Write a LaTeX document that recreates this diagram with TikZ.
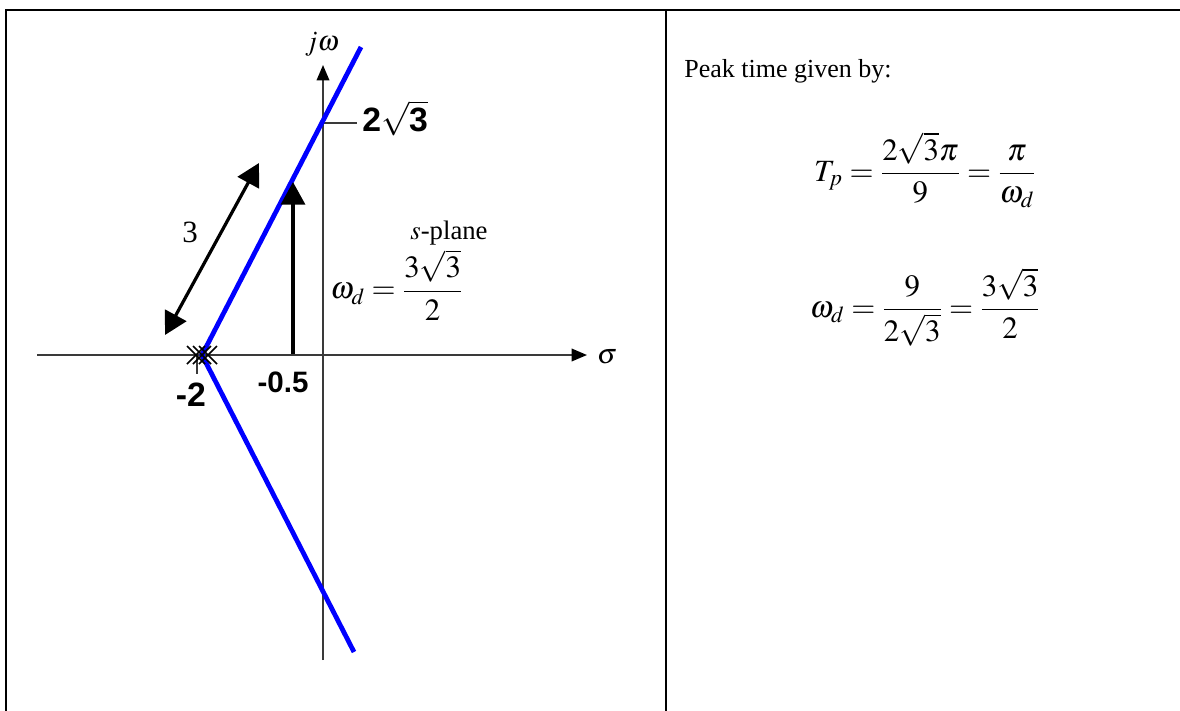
\documentclass[tikz,border=0pt]{standalone}
\usepackage{mathptmx}
\usepackage{fontspec}
\setmainfont{Liberation Serif}
\newfontfamily\arialfont{Liberation Sans}
\usetikzlibrary{arrows.meta}
\definecolor{locusblue}{HTML}{0000FF}
\definecolor{axisgray}{HTML}{3A3A3A}

\begin{document}
\begin{tikzpicture}[
  x=0.025cm,y=-0.025cm,
  frameline/.style={line width=1.7pt},
  axisline/.style={axisgray,line width=1.2pt,-{Triangle[length=11pt,width=9pt,color=black]}},
  locus/.style={locusblue,line width=3.4pt},
  bigarrow/.style={line width=2.3pt,-{Triangle[length=16pt,width=17pt]}},
  dimarrow/.style={line width=2.3pt,{Triangle[length=16pt,width=17pt]}-{Triangle[length=16pt,width=17pt]}},
  polemark/.style={line width=1.1pt},
  boldlbl/.style={font=\arialfont\bfseries\fontsize{24}{28}\selectfont,inner sep=0pt},
  mathlbl/.style={font=\fontsize{22}{26}\selectfont,inner sep=0pt}
]
  \useasboundingbox (0,0) rectangle (1180,711);
  % table frame
  \draw[frameline] (6,711) -- (6,10) -- (1180,10);
  \draw[frameline] (666,10) -- (666,711);

  % s-plane
  \coordinate (origin) at (323,355);
  \coordinate (sigL) at (37,355);
  \coordinate (sigR) at (587,355);
  \coordinate (jwB) at (323,660);
  \coordinate (jwT) at (323,65);
  \coordinate (pole) at (202,355);
  \coordinate (locTop) at (361,47);
  \coordinate (locBot) at (354,652);
  \coordinate (tickA) at (323,123);
  \coordinate (tickB) at (357,123);
  \coordinate (dimA) at (165,335);
  \coordinate (dimB) at (259,163);
  \coordinate (wdBase) at (293,354);
  \coordinate (wdTip) at (293,182);

  \draw[axisline] (sigL) -- (sigR);
  \draw[axisline] (jwB) -- (jwT);
  \draw[axisgray,line width=0.8pt] (tickA) -- (tickB);
  \draw[axisgray,line width=0.8pt] (197,355) -- (197,374);
  \draw[locus] (locTop) -- (pole) -- (locBot);
  \foreach \dx in {-6,0,6}
    \draw[polemark] ([shift={(\dx-9,-9)}]pole) -- ([shift={(\dx+9,9)}]pole)
                    ([shift={(\dx-9,9)}]pole) -- ([shift={(\dx+9,-9)}]pole);
  \draw[dimarrow] (dimA) -- (dimB);
  \draw[bigarrow] (wdBase) -- (wdTip);

  \node[font=\fontsize{20}{22}\selectfont] (jw) at (322,44) {$j\omega$};
  \node[font=\fontsize{20}{22}\selectfont] (sig) at (607,357) {$\sigma$};
  \node[boldlbl,anchor=west] (twor3) at (362,118) {2$\sqrt{\hbox{\arialfont\bfseries 3}}$};
  \node[boldlbl] (mtwo) at (191,395) {-2};
  \node[boldlbl,font=\arialfont\bfseries\fontsize{21}{25}\selectfont] (mhalf) at (283,382) {-0.5};
  \node[mathlbl] (three) at (190,232) {3};
  \node[font=\fontsize{19}{22}\selectfont,inner sep=0pt] (splane) at (449,233) {$s$-plane};
  \node[mathlbl,anchor=west] (wdeq) at (330,285) {$\omega_d=\displaystyle\frac{3\sqrt{3}}{2}$};

  % right column
  \node[font=\fontsize{18.5}{22}\selectfont,anchor=base west,inner sep=0pt] (peak) at (684,77) {Peak time given by:};
  \node[mathlbl] (tpeq) at (925,170) {$T_p=\displaystyle\frac{2\sqrt{3}\pi}{9}=\frac{\pi}{\omega_d}$};
  \node[mathlbl] (wdcalc) at (925,307) {$\omega_d=\displaystyle\frac{9}{2\sqrt{3}}=\frac{3\sqrt{3}}{2}$};
\end{tikzpicture}
\end{document}
